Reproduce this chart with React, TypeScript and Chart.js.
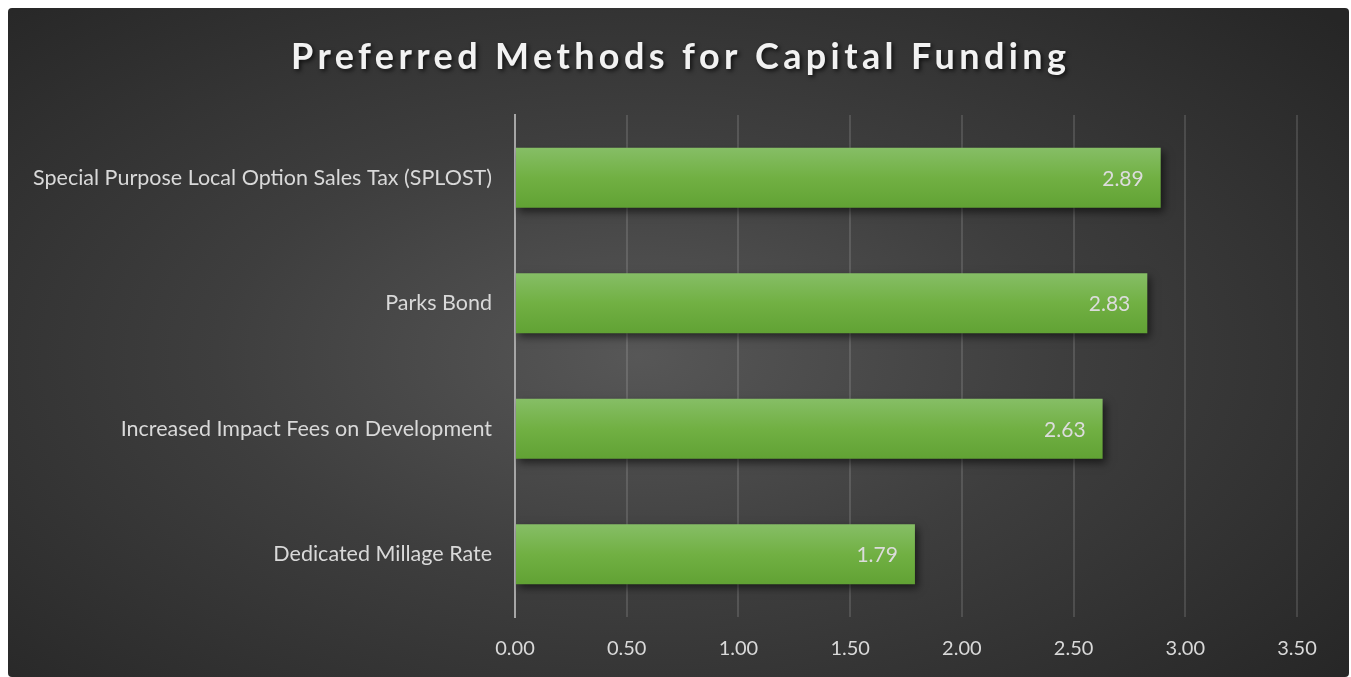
import React, { useEffect, useRef } from "react";
import { Chart, registerables } from "chart.js";

Chart.register(...registerables);

const titleText = "Preferred Methods for Capital Funding";
const categories = [
  "Special Purpose Local Option Sales Tax (SPLOST)",
  "Parks Bond",
  "Increased Impact Fees on Development",
  "Dedicated Millage Rate",
];
const values = [2.89, 2.83, 2.63, 1.79];
const xMin = 0;
const xMax = 3.5;
const xStep = 0.5;

const FONT = "Lato, 'Open Sans', sans-serif";
const BAR_PCT = 0.48;

export default function App() {
  const ref = useRef<HTMLCanvasElement | null>(null);

  useEffect(() => {
    document.documentElement.style.overflow = "hidden";
    document.body.style.overflow = "hidden";
    const canvas = ref.current;
    if (!canvas) return;

    const shadowPlugin = {
      id: "barShadow",
      beforeDatasetsDraw(chart: any) {
        const ctx = chart.ctx;
        ctx.save();
        ctx.shadowColor = "rgba(0,0,0,0.55)";
        ctx.shadowBlur = 8;
        ctx.shadowOffsetX = 3;
        ctx.shadowOffsetY = 4;
      },
      afterDatasetsDraw(chart: any) {
        const ctx = chart.ctx;
        ctx.restore();
        const meta = chart.getDatasetMeta(0);
        ctx.save();
        ctx.font = `21px ${FONT}`;
        ctx.fillStyle = "#dcdcdc";
        ctx.textAlign = "right";
        ctx.textBaseline = "middle";
        meta.data.forEach((bar: any, i: number) => {
          ctx.fillText(values[i].toFixed(2), bar.x - 17, bar.y + 1);
        });
        ctx.restore();
      },
    };

    const titlePlugin = {
      id: "customTitle",
      afterDraw(chart: any) {
        const ctx = chart.ctx;
        ctx.save();
        ctx.font = `bold 36px ${FONT}`;
        ctx.textBaseline = "middle";
        ctx.textAlign = "left";
        const n = titleText.length;
        (ctx as any).letterSpacing = "0px";
        const w0 = ctx.measureText(titleText).width;
        const target = 775;
        const ls = Math.max(0, (target - w0) / (n - 1));
        (ctx as any).letterSpacing = `${ls}px`;
        const x = chart.width / 2 - target / 2;
        ctx.shadowColor = "rgba(0,0,0,0.7)";
        ctx.shadowBlur = 4;
        ctx.shadowOffsetX = 2;
        ctx.shadowOffsetY = 2;
        ctx.fillStyle = "#f2f2f2";
        ctx.fillText(titleText, x, 49);
        ctx.restore();
      },
    };

    const chart = new Chart(canvas, {
      type: "bar",
      data: {
        labels: categories,
        datasets: [
          {
            data: values,
            backgroundColor: (c: any) => {
              const ch = c.chart;
              const ys = ch.scales?.y;
              if (!ys || c.dataIndex === undefined || !ys.height) return "#70ad47";
              const center = ys.getPixelForValue(c.dataIndex);
              const half = ((ys.height / categories.length) * BAR_PCT) / 2;
              const g = ch.ctx.createLinearGradient(0, center - half, 0, center + half);
              g.addColorStop(0, "#86be66");
              g.addColorStop(0.5, "#71b043");
              g.addColorStop(1, "#61a234");
              return g;
            },
            borderWidth: 0,
            categoryPercentage: 1,
            barPercentage: BAR_PCT,
          },
        ],
      },
      options: {
        indexAxis: "y",
        animation: false,
        responsive: false,
        maintainAspectRatio: false,
        layout: { padding: { top: 107, right: 52, left: 0, bottom: 0 } },
        plugins: {
          legend: { display: false },
          title: { display: false },
          tooltip: { enabled: false },
        },
        scales: {
          x: {
            min: xMin,
            max: xMax,
            ticks: {
              stepSize: xStep,
              color: "#d9d9d9",
              font: { family: FONT, size: 20 },
              padding: 20,
              callback: (v: any) => Number(v).toFixed(2),
            },
            grid: {
              color: (c: any) => (c.index === 0 ? "rgba(0,0,0,0)" : "rgba(255,255,255,0.13)"),
              lineWidth: 2,
              drawTicks: false,
            },
            border: { display: false },
            afterFit: (s: any) => {
              s.height = 60;
            },
          },
          y: {
            ticks: {
              color: "#d9d9d9",
              font: { family: FONT, size: 21.5 },
              padding: 23,
            },
            grid: { display: false, drawTicks: false },
            border: { display: true, color: "#a6a6a6", width: 2 },
            afterFit: (s: any) => {
              s.width = 507;
            },
          },
        },
      },
      plugins: [shadowPlugin, titlePlugin],
    } as any);

    return () => chart.destroy();
  }, []);

  return (
    <div
      style={{
        position: "absolute",
        left: 8,
        top: 8,
        width: 1341,
        height: 669,
        borderRadius: 4,
        overflow: "hidden",
        background:
          "radial-gradient(ellipse 70% 75% at 47% 52%, #575757 0%, #3e3e3e 45%, #262626 100%)",
      }}
    >
      <canvas ref={ref} width={1341} height={669} style={{ display: "block" }} />
    </div>
  );
}
